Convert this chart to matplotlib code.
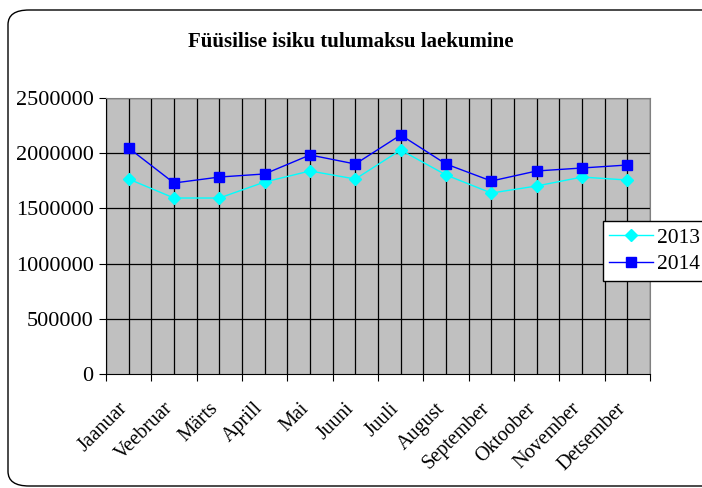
import numpy as np
import matplotlib.pyplot as plt
import matplotlib.transforms as mtransforms
from matplotlib.patches import FancyBboxPatch

# -- data --
months = ["Jaanuar", "Veebruar", "Märts", "Aprill", "Mai", "Juuni",
          "Juuli", "August", "September", "Oktoober", "November", "Detsember"]
y2013 = [1766000, 1594000, 1594000, 1739000, 1839000, 1766000,
         2029000, 1803000, 1639000, 1703000, 1784000, 1757000]
y2014 = [2047000, 1730000, 1784000, 1812000, 1984000, 1902000,
         2165000, 1902000, 1748000, 1839000, 1866000, 1893000]
yticks = [0, 500000, 1000000, 1500000, 2000000, 2500000]

plt.rcParams['font.family'] = ['Liberation Serif', 'DejaVu Serif']

fig = plt.figure(figsize=(7.02, 4.88), dpi=100)
W, H = 702, 488

# -- rounded frame --
frame = FancyBboxPatch((8 / W, 2 / H), 720 / W, 476 / H,
                       boxstyle="round,pad=0,rounding_size=0.03",
                       transform=fig.transFigure, fill=False,
                       edgecolor="black", linewidth=1.0, clip_on=False)
fig.patches.append(frame)

ax = fig.add_axes([106 / W, 1 - 374 / H, 544 / W, 276 / H])
ax.set_facecolor("#C0C0C0")

x = np.arange(len(months))
ax.set_xlim(-0.5, len(months) - 0.5)
ax.set_ylim(0, 2500000)

# -- gridlines --
for gx in np.arange(-0.5, len(months), 0.5):
    ax.axvline(gx, color="black", linewidth=0.9, zorder=1)
for gy in yticks[1:]:
    ax.axhline(gy, color="black", linewidth=0.9, zorder=1)

ax.plot(x, y2013, color="#00FFFF", marker="D", markersize=6, linewidth=1.0,
        label="2013", zorder=3)
ax.plot(x, y2014, color="#0000FF", marker="s", markersize=7, linewidth=1.0,
        label="2014", zorder=3)

ax.set_yticks(yticks)
ax.set_yticklabels([str(v) for v in yticks], fontsize=16)
ax.set_xticks(np.arange(-0.5, len(months), 1), minor=False)
ax.set_xticklabels([])
ax.set_xticks(x, minor=True)
ax.set_xticklabels(months, minor=True, rotation=45, ha="right", va="top",
                   rotation_mode="anchor", fontsize=14.5)
ax.tick_params(axis="x", which="minor", length=0, pad=18)
ax.tick_params(axis="x", which="major", length=5, direction="out")
ax.tick_params(axis="y", length=5, direction="out", pad=4)

# shift month labels a bit to the left
offset = mtransforms.ScaledTranslation(-11 / 100, 0, fig.dpi_scale_trans)
for lbl in ax.get_xticklabels(minor=True):
    lbl.set_transform(lbl.get_transform() + offset)

for s in ax.spines.values():
    s.set_color("#808080")
ax.spines["left"].set_color("black")
ax.spines["bottom"].set_color("black")

fig.text(0.5, 1 - 42 / H, "Füüsilise isiku tulumaksu laekumine",
         ha="center", va="center", fontsize=15, fontweight="bold")

leg = fig.legend(loc="upper left", bbox_to_anchor=(603 / W, 1 - 221 / H),
                 fontsize=15.5, frameon=True, fancybox=False, edgecolor="black",
                 framealpha=1, borderpad=0.3, handlelength=2.0,
                 handletextpad=0.2, labelspacing=0.3, borderaxespad=0)
leg.get_frame().set_linewidth(1.0)

fig.savefig("out.png", dpi=100)
